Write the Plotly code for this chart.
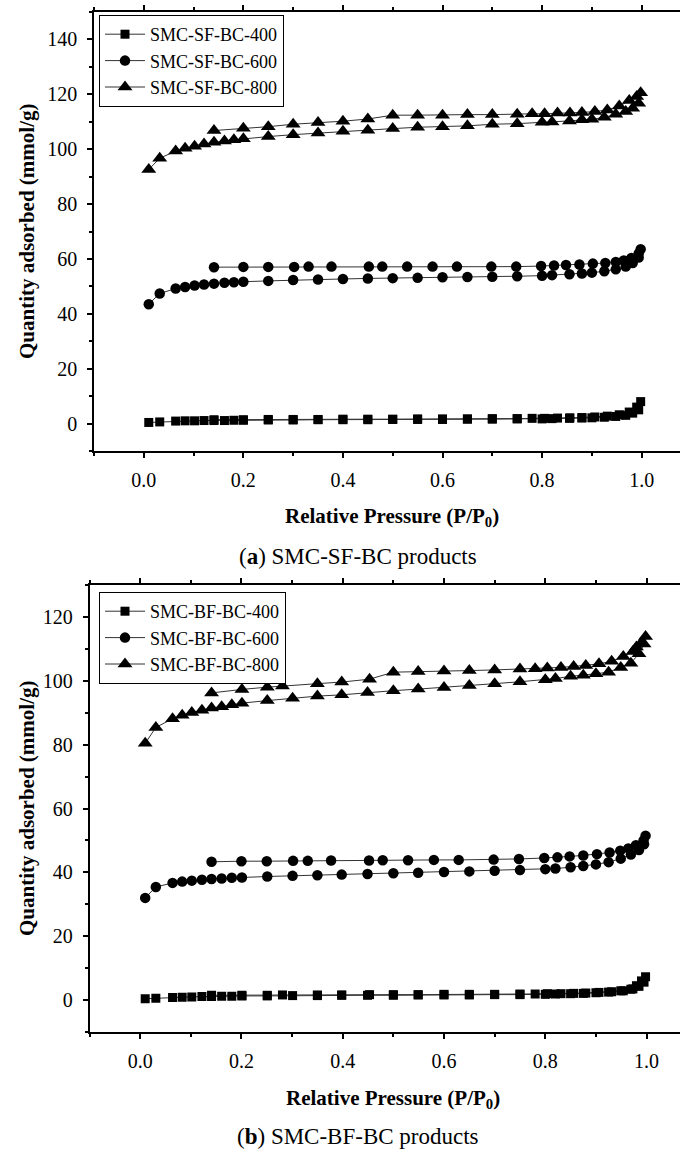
import plotly.graph_objects as go

W, H = 680, 1149
FONT = "Liberation Serif"

# ---------------- Panel (a): SMC-SF-BC ----------------
a_ads_p = [0.01, 0.032, 0.064, 0.083, 0.102, 0.121, 0.141, 0.162, 0.181, 0.2, 0.25, 0.3, 0.35, 0.4,
           0.45, 0.5, 0.55, 0.6, 0.65, 0.7, 0.75, 0.8, 0.82, 0.855, 0.88, 0.9, 0.925, 0.948, 0.968,
           0.982, 0.994, 0.998]
a_des_p = [0.99, 0.975, 0.955, 0.931, 0.906, 0.88, 0.856, 0.831, 0.805, 0.78, 0.75, 0.7, 0.65, 0.6,
           0.55, 0.5, 0.45, 0.4, 0.35, 0.3, 0.25, 0.2, 0.141]
a_des_p_600 = [0.994, 0.979, 0.964, 0.948, 0.927, 0.902, 0.875, 0.848, 0.824, 0.798, 0.748, 0.698,
               0.629, 0.58, 0.529, 0.479, 0.452, 0.377, 0.331, 0.302, 0.25, 0.2, 0.141]

a400_ads_q = [0.4, 0.6, 0.9, 1.0, 1.0, 1.1, 1.1, 1.1, 1.2, 1.2, 1.3, 1.3, 1.4, 1.4, 1.4, 1.5, 1.5,
              1.5, 1.6, 1.6, 1.7, 1.7, 1.8, 1.9, 2.0, 2.1, 2.3, 2.6, 3.0, 3.8, 5.0, 8.0]
a400_des_q = [6.0, 4.2, 3.2, 2.7, 2.4, 2.2, 2.1, 2.0, 1.9, 1.9, 1.8, 1.8, 1.7, 1.7, 1.7, 1.6, 1.6,
              1.6, 1.5, 1.5, 1.5, 1.4, 1.4]
a600_ads_q = [43.5, 47.4, 49.2, 49.8, 50.3, 50.7, 51.0, 51.3, 51.5, 51.7, 52.0, 52.3, 52.5, 52.7,
              52.9, 53.0, 53.1, 53.3, 53.4, 53.5, 53.7, 53.9, 54.1, 54.4, 54.7, 55.0, 55.5, 56.2,
              57.2, 58.5, 60.5, 63.5]
a600_des_q = [62.0, 60.3, 59.4, 58.9, 58.5, 58.3, 58.0, 57.8, 57.6, 57.4, 57.2, 57.2, 57.2, 57.2,
              57.2, 57.2, 57.2, 57.2, 57.2, 57.1, 57.1, 57.1, 57.0]
a800_ads_q = [92.6, 96.7, 99.3, 100.3, 101.1, 101.9, 102.5, 103.0, 103.4, 103.8, 104.6, 105.3,
              105.9, 106.5, 106.9, 107.5, 108.0, 108.2, 108.5, 109.1, 109.3, 109.8, 109.9, 110.3,
              110.7, 110.9, 111.6, 112.7, 113.7, 114.9, 116.7, 120.6]
a800_des_q = [119.2, 117.7, 115.7, 114.3, 113.7, 113.4, 113.2, 113.2, 112.9, 112.9, 112.7, 112.6,
              112.6, 112.4, 112.4, 112.4, 111.0, 110.2, 109.7, 109.1, 108.2, 107.6, 106.8]

# ---------------- Panel (b): SMC-BF-BC ----------------
b_ads_p = [0.01, 0.031, 0.064, 0.083, 0.102, 0.122, 0.141, 0.161, 0.181, 0.201, 0.251, 0.301, 0.35,
           0.398, 0.449, 0.5, 0.549, 0.6, 0.65, 0.7, 0.75, 0.8, 0.82, 0.85, 0.875, 0.9, 0.925,
           0.949, 0.969, 0.985, 0.995, 0.998]
b_des_p = [0.99, 0.98, 0.973, 0.954, 0.931, 0.906, 0.88, 0.856, 0.831, 0.804, 0.78, 0.75, 0.7, 0.65,
           0.6, 0.549, 0.5, 0.453, 0.398, 0.35, 0.281, 0.251, 0.201, 0.141]
b_des_p_600 = [0.994, 0.979, 0.964, 0.948, 0.927, 0.902, 0.875, 0.848, 0.824, 0.798, 0.748, 0.698,
               0.629, 0.58, 0.529, 0.479, 0.452, 0.377, 0.331, 0.302, 0.25, 0.2, 0.141]

b400_ads_q = [0.4, 0.6, 0.8, 0.9, 1.0, 1.1, 1.1, 1.2, 1.2, 1.3, 1.3, 1.4, 1.4, 1.5, 1.5, 1.5, 1.6,
              1.6, 1.6, 1.7, 1.7, 1.8, 1.9, 2.0, 2.1, 2.3, 2.5, 2.9, 3.4, 4.3, 5.6, 7.3]
b400_des_q = [6.0, 4.5, 3.5, 2.9, 2.6, 2.4, 2.2, 2.1, 2.0, 2.0, 1.9, 1.9, 1.8, 1.8, 1.8, 1.7, 1.7,
              1.7, 1.6, 1.6, 1.6, 1.5, 1.5, 1.5]
b600_ads_q = [32.0, 35.4, 36.7, 37.1, 37.4, 37.7, 37.9, 38.1, 38.3, 38.4, 38.7, 38.9, 39.1, 39.3,
              39.5, 39.7, 39.9, 40.1, 40.3, 40.5, 40.7, 41.0, 41.2, 41.6, 42.0, 42.5, 43.2, 44.3,
              45.6, 47.0, 48.8, 51.5]
b600_des_q = [50.0, 48.5, 47.5, 46.8, 46.2, 45.7, 45.3, 45.0, 44.7, 44.5, 44.2, 44.0, 43.9, 43.9,
              43.8, 43.8, 43.7, 43.7, 43.6, 43.6, 43.5, 43.5, 43.3]
b800_ads_q = [80.4, 85.4, 88.1, 89.2, 90.1, 90.8, 91.5, 91.9, 92.5, 93.0, 93.8, 94.5, 95.2, 95.6,
              96.3, 96.9, 97.4, 97.9, 98.5, 99.1, 99.7, 100.3, 100.7, 101.4, 101.7, 102.2, 102.7,
              104.2, 105.5, 108.5, 111.5, 113.9]
b800_des_q = [112.0, 110.6, 109.2, 107.6, 106.1, 105.3, 104.8, 104.5, 104.2, 104.0, 103.8, 103.7,
              103.4, 103.2, 103.1, 102.9, 102.7, 100.5, 99.6, 99.1, 98.4, 98.0, 97.3, 96.2]

names_a = ["SMC-SF-BC-400", "SMC-SF-BC-600", "SMC-SF-BC-800"]
names_b = ["SMC-BF-BC-400", "SMC-BF-BC-600", "SMC-BF-BC-800"]
symbols = ["square", "circle", "triangle-up"]
sizes = [9, 10.5, 13]

fig = go.Figure()

series_a = [(a_ads_p + a_des_p, a400_ads_q + a400_des_q),
            (a_ads_p + a_des_p_600, a600_ads_q + a600_des_q),
            (a_ads_p + a_des_p, a800_ads_q + a800_des_q)]
series_b = [(b_ads_p + b_des_p, b400_ads_q + b400_des_q),
            (b_ads_p + b_des_p_600, b600_ads_q + b600_des_q),
            (b_ads_p + b_des_p, b800_ads_q + b800_des_q)]

for (xs, ys), nm, sym, sz in zip(series_a, names_a, symbols, sizes):
    fig.add_trace(go.Scatter(x=xs, y=ys, name=nm, mode="lines+markers",
                             line=dict(color="#333333", width=1),
                             marker=dict(symbol=sym, size=sz, color="black"),
                             xaxis="x", yaxis="y", legend="legend"))
for (xs, ys), nm, sym, sz in zip(series_b, names_b, symbols, sizes):
    fig.add_trace(go.Scatter(x=xs, y=ys, name=nm, mode="lines+markers",
                             line=dict(color="#333333", width=1),
                             marker=dict(symbol=sym, size=sz, color="black"),
                             xaxis="x2", yaxis="y2", legend="legend2"))


def fy(px):
    return 1 - px / H


def fx(px):
    return px / W


tickfont = dict(family=FONT, size=20, color="black")
xcommon = dict(showline=True, linecolor="black", linewidth=1.5, mirror="ticks",
               ticks="outside", ticklen=5, tickwidth=1.5, tickcolor="black",
               tick0=0, dtick=0.2, tickformat=".1f", showgrid=False, zeroline=False,
               tickfont=tickfont, ticklabelstandoff=5,
               minor=dict(ticks="outside", ticklen=3, tickwidth=1.5, tickcolor="black",
                          dtick=0.1, tick0=0, showgrid=False))
ycommon = dict(showline=True, linecolor="black", linewidth=1.5, mirror=False,
               ticks="outside", ticklen=5, tickwidth=1.5, tickcolor="black",
               tick0=0, dtick=20, showgrid=False, zeroline=False,
               tickfont=tickfont, ticklabelstandoff=6,
               minor=dict(ticks="outside", ticklen=3, tickwidth=1.5, tickcolor="black",
                          dtick=10, tick0=0, showgrid=False))

legcommon = dict(xanchor="left", yanchor="top", bordercolor="black", borderwidth=1,
                 bgcolor="white", font=dict(family=FONT, size=18, color="black"),
                 tracegroupgap=0, itemwidth=40)

fig.update_layout(
    width=W, height=H, margin=dict(l=0, r=0, t=0, b=0),
    paper_bgcolor="white", plot_bgcolor="white",
    showlegend=True,
    xaxis=dict(domain=[fx(94), 1], range=[-0.1, 1.077], anchor="y", **xcommon),
    yaxis=dict(domain=[fy(451), fy(12)], range=[-10, 150], anchor="x", **ycommon),
    xaxis2=dict(domain=[fx(89.5), 1], range=[-0.1, 1.066], anchor="y2", **xcommon),
    yaxis2=dict(domain=[fy(1032), fy(585)], range=[-10, 130], anchor="x2", **ycommon),
    legend=dict(x=fx(99), y=fy(15), **legcommon),
    legend2=dict(x=fx(99), y=fy(592), **legcommon),
)

ytitle = "<b>Quantity adsorbed (mmol/g)</b>"
xtitle = "<b>Relative Pressure (P/P<sub>0</sub>)</b>"
afont = dict(family=FONT, size=21, color="black")
cfont = dict(family=FONT, size=23, color="black")
annots = [
    dict(text=ytitle, x=fx(27), y=fy(231), textangle=-90, font=afont),
    dict(text=xtitle, x=fx(392.5), y=fy(517), font=afont),
    dict(text="(<b>a</b>) SMC-SF-BC products", x=fx(358), y=fy(556), font=cfont),
    dict(text=ytitle, x=fx(27), y=fy(808), textangle=-90, font=afont),
    dict(text=xtitle, x=fx(393), y=fy(1099), font=afont),
    dict(text="(<b>b</b>) SMC-BF-BC products", x=fx(358), y=fy(1136), font=cfont),
]
for a in annots:
    fig.add_annotation(xref="paper", yref="paper", xanchor="center", yanchor="middle",
                       showarrow=False, **a)

fig.write_html("out.html", config={"displayModeBar": False},
               post_script="document.body.style.margin='0px';"
                           "document.body.style.overflow='hidden';")
